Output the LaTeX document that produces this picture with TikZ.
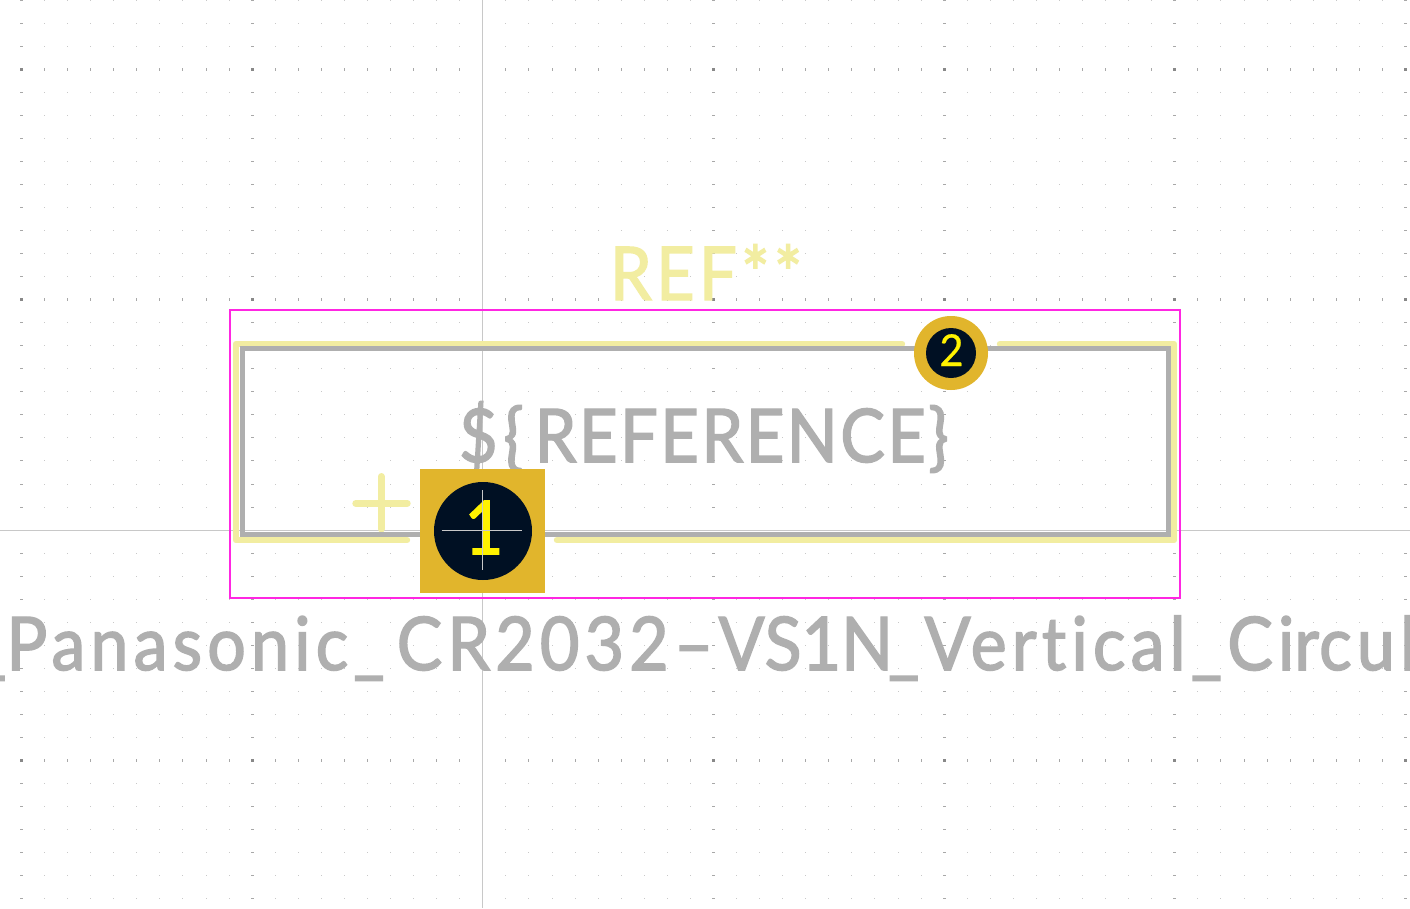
\documentclass[tikz,border=0pt]{standalone}
\usepackage{fontspec}
\setmainfont{Lato}
\newfontfamily\fontA[FakeStretch=0.90,LetterSpace=6,FakeBold=2,Ligatures={NoCommon,NoRequired}]{Lato}
\newfontfamily\fontD[FakeStretch=0.90,LetterSpace=3.5,FakeBold=2,Ligatures={NoCommon,NoRequired}]{Lato}
\newfontfamily\fontB[FakeStretch=0.92,LetterSpace=7,FakeBold=2,Ligatures={NoCommon,NoRequired}]{Lato}
\newfontfamily\fontC[FakeStretch=0.95,FakeBold=0.5]{Lato}
\definecolor{silk}{HTML}{F2EDA1}
\definecolor{fab}{HTML}{AFAFAF}
\definecolor{court}{HTML}{FF26E2}
\definecolor{padc}{HTML}{E1B52C}
\definecolor{holec}{HTML}{001023}
\definecolor{cross}{HTML}{C8C8C8}
\definecolor{gridmin}{HTML}{C8C8C8}
\definecolor{gridmid}{HTML}{A8A8A8}
\definecolor{gridmaj}{HTML}{888888}
\tikzset{
  silkline/.style={draw=silk,line width=6.4pt,line cap=round,line join=round},
  fabline/.style={draw=fab,line width=5pt,line join=miter},
  courtline/.style={draw=court,line width=2pt},
  crossline/.style={draw=cross,line width=1pt},
  labeltext/.style={inner sep=0pt,outer sep=0pt,anchor=base west},
  padnum/.style={inner sep=0pt,outer sep=0pt,anchor=base,text=yellow},
}
\begin{document}
\begin{tikzpicture}[x=1pt,y=-1pt]
\useasboundingbox (0,0) rectangle (1410,908);
\clip (0,0) rectangle (1410,908);
\fill[white] (0,0) rectangle (1410,908);
% grid
\foreach \c in {0,...,60}{
  \ifnum\c=20\else
  \pgfmathtruncatemacro{\px}{floor(21.5+23.067*\c)}
  \pgfmathtruncatemacro{\cm}{mod(\c,10)}
  \foreach \r in {0,...,39}{
    \ifnum\r=23\else
    \pgfmathtruncatemacro{\py}{floor(0.4+23.03*\r)}
    \pgfmathtruncatemacro{\rm}{mod(\r+7,10)}
    \ifnum\cm=0
      \ifnum\rm=0
        \fill[gridmaj] (\px-1,\py-1) rectangle (\px+2,\py+2);
      \else
        \fill[gridmid] (\px-1,\py) rectangle (\px+2,\py+1);
      \fi
    \else
      \ifnum\rm=0
        \fill[gridmid] (\px,\py-1) rectangle (\px+1,\py+2);
      \else
        \fill[gridmin] (\px,\py) rectangle (\px+1,\py+1);
      \fi
    \fi
    \fi
  }
  \fi
}
% crosshair
\coordinate (crossT) at (482.5,0);
\coordinate (crossB) at (482.5,908);
\coordinate (crossL) at (0,530.5);
\coordinate (crossR) at (1410,530.5);
\draw[crossline] (crossT) -- (crossB);
\draw[crossline] (crossL) -- (crossR);
% silkscreen
\draw[silkline] (902,344) -- (236,344) -- (236,540) -- (407,540);
\draw[silkline] (557,540) -- (1174,540) -- (1174,344) -- (1000,344);
\draw[silkline,line width=7pt] (381.3,476.5) -- (381.3,529);
\draw[silkline,line width=7pt] (355.8,503.3) -- (407.2,503.3);
% fab
\draw[fabline] (242,348.5) rectangle (1168.5,534.5);
% courtyard
\draw[courtline] (230,310) rectangle (1180,598);
% texts
\node[labeltext,text=fab] (fabref) at (459,462) {\fontsize{74}{74}\fontD\$\kern6pt\{\kern11pt REFERENCE\}};
\node[labeltext,text=silk] (silkref) at (610,300) {\fontsize{74}{74}\fontA REF**};
\node[labeltext,text=fab] (fpname) at (-24.8,670) {\fontsize{74}{74}\fontB\_\kern0pt Panasonic\_\kern12pt CR2032–V\kern0pt S\kern0pt 1\kern0pt N\kern-5pt\_Vertical\_Ci\kern0pt r\kern0pt cul};
% pads
\node[draw=none,fill=padc,minimum width=125pt,minimum height=124pt,inner sep=0pt] (pad1) at (482.5,531) {};
\node[circle,fill=holec,minimum size=98pt,inner sep=0pt] (hole1) at (483,531) {};
\node[circle,fill=padc,minimum size=74pt,inner sep=0pt] (pad2) at (951,353) {};
\node[circle,fill=holec,minimum size=50pt,inner sep=0pt] (hole2) at (951,353) {};
\node[padnum] (num1) at (484,554) {\fontsize{74}{74}\fontA 1};
\node[padnum] (num2) at (951.5,366) {\fontsize{44}{44}\fontC 2};
\coordinate (cT) at (482.5,490);
\coordinate (cB) at (482.5,570);
\coordinate (cL) at (441.7,530.5);
\coordinate (cR) at (522,530.5);
\draw[crossline] (cT) -- (cB);
\draw[crossline] (cL) -- (cR);
\end{tikzpicture}
\end{document}
